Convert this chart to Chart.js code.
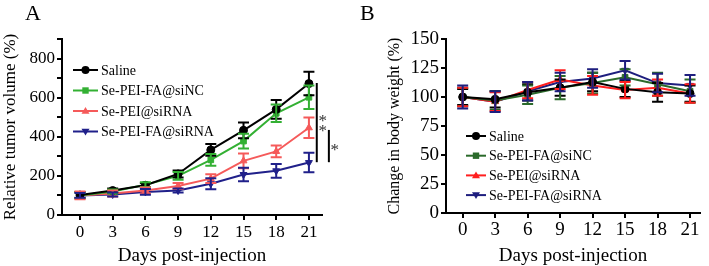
<!DOCTYPE html>
<html>
<head>
<meta charset="utf-8">
<script src="https://cdn.jsdelivr.net/npm/chart.js@4/dist/chart.umd.min.js"></script>
<style>
    body { margin: 0; background: #fff; }
    #wrap { position: relative; width: 709px; height: 266px; }
    .panel { position: absolute; top: 0; height: 266px; }
    #panelA { left: 0; width: 345px; }
    #panelB { left: 345px; width: 364px; }
</style>
</head>
<body>
<div id="wrap">
    <div class="panel" id="panelA"><canvas id="chartA"></canvas></div>
    <div class="panel" id="panelB"><canvas id="chartB"></canvas></div>
</div>
<script>
// Data
const days = [0, 3, 6, 9, 12, 15, 18, 21];
const seriesNames = ['Saline', 'Se-PEI-FA@siNC', 'Se-PEI@siRNA', 'Se-PEI-FA@siRNA'];
const volumeTicks = [0, 200, 400, 600, 800];
const weightTicks = [0, 25, 50, 75, 100, 125, 150];

// Panel A: relative tumor volume (%)
const volSaline = [102, 125, 152, 210, 333, 433, 540, 672];
const volSiNC = [100, 120, 155, 200, 282, 378, 520, 602];
const volPei = [100, 110, 125, 148, 186, 277, 325, 446];
const volSiRNA = [100, 105, 118, 125, 160, 207, 226, 268];
const volSalineErr = [15, 10, 12, 18, 30, 40, 48, 60];
const volSiNCErr = [15, 10, 12, 20, 30, 38, 45, 60];
const volPeiErr = [20, 15, 15, 15, 22, 38, 30, 52];
const volSiRNAErr = [12, 10, 15, 10, 28, 35, 35, 50];

// Panel B: change in body weight (%)
const wtSaline = [100, 98, 104, 108, 113, 107, 104, 103];
const wtSiNC = [100, 97, 102, 108, 112, 117, 111, 105];
const wtPei = [100, 96, 106, 115, 110, 106, 108, 103];
const wtSiRNA = [100, 96, 105, 113, 116, 123, 112, 110];
const wtSalineErr = [7, 7, 7, 7, 8, 7, 8, 7];
const wtSiNCErr = [8, 8, 8, 10, 9, 7, 10, 10];
const wtPeiErr = [8, 8, 7, 8, 8, 7, 7, 8];
const wtSiRNAErr = [10, 9, 8, 8, 8, 8, 8, 9];

const FONT = "'Liberation Serif', 'Times New Roman', serif";
const colorsA = ['#000000', '#33b033', '#f55a5a', '#20208a'];
const colorsB = ['#000000', '#2b6a2b', '#ff1f1f', '#1e1e7e'];
const markers = [
    { style: 'circle', rotation: 0 },
    { style: 'rect', rotation: 0 },
    { style: 'triangle', rotation: 0 },
    { style: 'triangle', rotation: 180 }
];

function makeDatasets(values, errors, colors) {
    return values.map((v, i) => ({
        label: seriesNames[i],
        data: days.map((d, j) => ({ x: d, y: v[j] })),
        errors: errors[i],
        borderColor: colors[i],
        backgroundColor: colors[i],
        borderWidth: 2,
        pointStyle: markers[i].style,
        rotation: markers[i].rotation,
        pointRadius: 4,
        pointBorderWidth: 1,
        tension: 0
    }));
}

// draw a marker shape for the legend
function drawMarker(ctx, style, rotation, x, y, r) {
    ctx.beginPath();
    if (style === 'circle') {
        ctx.arc(x, y, r, 0, Math.PI * 2);
    } else if (style === 'rect') {
        ctx.rect(x - r * 0.8, y - r * 0.8, r * 1.6, r * 1.6);
    } else {
        const s = rotation === 180 ? -1 : 1;
        ctx.moveTo(x, y - s * r);
        ctx.lineTo(x + r, y + s * r * 0.7);
        ctx.lineTo(x - r, y + s * r * 0.7);
        ctx.closePath();
    }
    ctx.fill();
}

const errorBarPlugin = {
    id: 'errorBars',
    afterDatasetsDraw(chart) {
        const ctx = chart.ctx;
        const xs = chart.scales.x;
        const ys = chart.scales.y;
        ctx.save();
        chart.data.datasets.forEach(ds => {
            ctx.strokeStyle = ds.borderColor;
            ctx.lineWidth = 2;
            ds.data.forEach((p, j) => {
                const err = ds.errors[j];
                const px = xs.getPixelForValue(p.x);
                const top = ys.getPixelForValue(p.y + err);
                const bot = ys.getPixelForValue(p.y - err);
                ctx.beginPath();
                ctx.moveTo(px, top); ctx.lineTo(px, bot);
                ctx.moveTo(px - 5.5, top); ctx.lineTo(px + 5.5, top);
                ctx.moveTo(px - 5.5, bot); ctx.lineTo(px + 5.5, bot);
                ctx.stroke();
            });
        });
        ctx.restore();
    }
};

const legendPlugin = {
    id: 'insideLegend',
    afterDraw(chart, args, opts) {
        const ctx = chart.ctx;
        const area = chart.chartArea;
        ctx.save();
        ctx.font = opts.fontSize + 'px ' + FONT;
        ctx.textBaseline = 'middle';
        chart.data.datasets.forEach((ds, i) => {
            const y = area.top + opts.top + i * opts.rowGap;
            const x0 = area.left + opts.left;
            ctx.strokeStyle = ds.borderColor;
            ctx.fillStyle = ds.borderColor;
            ctx.lineWidth = 2;
            ctx.beginPath();
            ctx.moveTo(x0, y); ctx.lineTo(x0 + opts.lineLen, y);
            ctx.stroke();
            drawMarker(ctx, markers[i].style, markers[i].rotation, x0 + opts.lineLen / 2, y, 4);
            ctx.fillStyle = '#000';
            ctx.fillText(ds.label, x0 + opts.lineLen + 3, y + 1);
        });
        ctx.restore();
    }
};

const panelLabelPlugin = {
    id: 'panelLabel',
    afterDraw(chart, args, opts) {
        const ctx = chart.ctx;
        ctx.save();
        ctx.font = '22px ' + FONT;
        ctx.fillStyle = '#000';
        ctx.textBaseline = 'top';
        ctx.fillText(opts.text, opts.x, 3);
        ctx.restore();
    }
};

// significance brackets on panel A, placed through the scales
const sigBars = [
    { x: 21.72, from: 675, to: 270, label: '**' },
    { x: 22.83, from: 435, to: 270, label: '*' }
];

const significancePlugin = {
    id: 'significance',
    afterDraw(chart, args, opts) {
        if (!opts.bars) return;
        const ctx = chart.ctx;
        const xs = chart.scales.x;
        const ys = chart.scales.y;
        ctx.save();
        opts.bars.forEach(b => {
            const px = xs.getPixelForValue(b.x);
            const y1 = ys.getPixelForValue(b.from);
            const y2 = ys.getPixelForValue(b.to);
            ctx.strokeStyle = '#000';
            ctx.lineWidth = 2;
            ctx.beginPath();
            ctx.moveTo(px, y1); ctx.lineTo(px, y2);
            ctx.stroke();
            ctx.fillStyle = '#333';
            ctx.font = '17px ' + FONT;
            ctx.textAlign = 'center';
            ctx.textBaseline = 'middle';
            const mid = (y1 + y2) / 2;
            const n = b.label.length;
            for (let k = 0; k < n; k++) {
                ctx.fillText('*', px + 6, mid - (n - 1) * 5 + k * 10 + 4);
            }
        });
        ctx.restore();
    }
};

function axisOptions(cfg) {
    return {
        x: {
            type: 'linear',
            min: cfg.xMin,
            max: cfg.xMax,
            afterBuildTicks: scale => { scale.ticks = days.map(v => ({ value: v })); },
            afterFit: scale => { scale.height = cfg.xHeight; },
            border: { display: true, color: '#000', width: 2 },
            grid: { display: true, drawOnChartArea: false, drawTicks: true, tickLength: 5, tickColor: '#000', lineWidth: 2 },
            ticks: { color: '#000', font: { family: FONT, size: cfg.tickSize }, padding: cfg.xPad, maxRotation: 0, autoSkip: false },
            title: { display: true, text: 'Days post-injection', color: '#000', font: { family: FONT, size: 19, lineHeight: 1 }, padding: { top: 4, bottom: 0 } }
        },
        y: {
            min: cfg.yMin,
            max: cfg.yMax,
            afterBuildTicks: scale => { scale.ticks = cfg.yTickValues.map(v => ({ value: v })); },
            afterFit: scale => { scale.width = cfg.yWidth; },
            border: { display: true, color: '#000', width: 2 },
            grid: { display: true, drawOnChartArea: false, drawTicks: true, tickLength: 5, tickColor: '#000', lineWidth: 2 },
            ticks: {
                color: '#000',
                font: { family: FONT, size: cfg.tickSize },
                padding: 2,
                autoSkip: false,
                callback: v => cfg.yLabels.includes(v) ? String(v) : ''
            },
            title: { display: true, text: cfg.yTitle, color: '#000', font: { family: FONT, size: cfg.yTitleSize }, padding: 0 }
        }
    };
}

const allTicksA = [0, 100, 200, 300, 400, 500, 600, 700, 800, 900];

new Chart(document.getElementById('chartA'), {
    type: 'line',
    data: { datasets: makeDatasets([volSaline, volSiNC, volPei, volSiRNA], [volSalineErr, volSiNCErr, volPeiErr, volSiRNAErr], colorsA) },
    options: {
        responsive: true,
        maintainAspectRatio: false,
        animation: false,
        layout: { padding: { left: 0, right: 23, top: 39, bottom: 0 } },
        scales: axisOptions({
            xMin: -1.65, xMax: 22.2, xHeight: 51, xPad: 2, tickSize: 17,
            yMin: 0, yMax: 900, yWidth: 62, yTitleSize: 17,
            yTickValues: allTicksA, yLabels: volumeTicks,
            yTitle: 'Relative tumor volume (%)'
        }),
        plugins: {
            legend: { display: false },
            tooltip: { enabled: false },
            insideLegend: { left: 11, top: 31, rowGap: 20.5, fontSize: 14, lineLen: 25 },
            panelLabel: { text: 'A', x: 25 },
            significance: { bars: sigBars }
        }
    },
    plugins: [errorBarPlugin, legendPlugin, panelLabelPlugin, significancePlugin]
});

new Chart(document.getElementById('chartB'), {
    type: 'line',
    data: { datasets: makeDatasets([wtSaline, wtSiNC, wtPei, wtSiRNA], [wtSalineErr, wtSiNCErr, wtPeiErr, wtSiRNAErr], colorsB) },
    options: {
        responsive: true,
        maintainAspectRatio: false,
        animation: false,
        layout: { padding: { left: 40, right: 9, top: 39, bottom: 0 } },
        scales: axisOptions({
            xMin: -1.54, xMax: 21.92, xHeight: 53, xPad: 1, tickSize: 19,
            yMin: 0, yMax: 150, yWidth: 61, yTitleSize: 16,
            yTickValues: weightTicks, yLabels: weightTicks,
            yTitle: 'Change in body weight (%)'
        }),
        plugins: {
            legend: { display: false },
            tooltip: { enabled: false },
            insideLegend: { left: 20, top: 97, rowGap: 19.7, fontSize: 14, lineLen: 20 },
            panelLabel: { text: 'B', x: 15 },
            significance: { bars: null }
        }
    },
    plugins: [errorBarPlugin, legendPlugin, panelLabelPlugin, significancePlugin]
});
</script>
</body>
</html>
